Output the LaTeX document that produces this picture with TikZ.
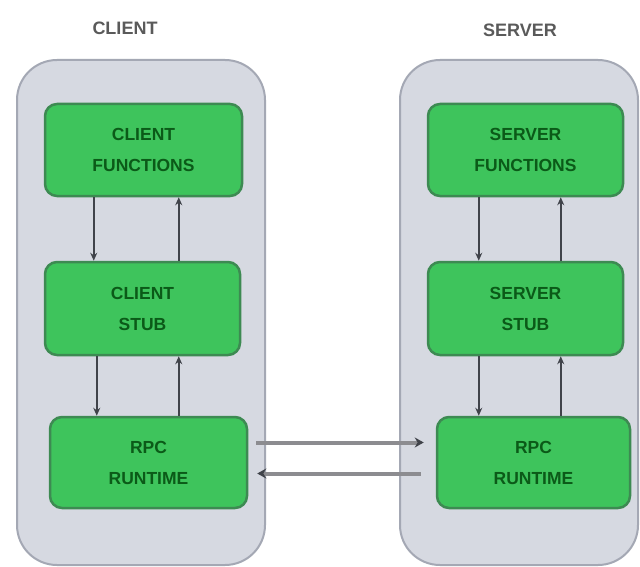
\documentclass[tikz,border=0pt]{standalone}
\usepackage{fontspec}
\setmainfont{Liberation Sans}
\usetikzlibrary{arrows.meta}
\definecolor{contfill}{HTML}{D6D9E1}
\definecolor{contdraw}{HTML}{A4A8B4}
\definecolor{boxfill}{HTML}{3EC45C}
\definecolor{boxdraw}{HTML}{3D8A52}
\definecolor{boxtext}{HTML}{0B5A18}
\definecolor{titletext}{HTML}{5A5A5A}
\definecolor{arrowgray}{HTML}{40434A}
\definecolor{linkgray}{HTML}{8C8C90}
\tikzset{
  container/.style={draw=contdraw, fill=contfill, line width=2pt, rounded corners=40pt},
  greenbox/.style={draw=boxdraw, fill=boxfill, line width=2.5pt, rounded corners=12pt,
    minimum width=195pt, minimum height=91pt, inner sep=0pt, align=center,
    text=boxtext, font=\bfseries\fontsize{17.5}{31}\selectfont},
  title/.style={text=titletext, font=\bfseries\fontsize{18}{20}\selectfont},
  varrow/.style={draw=arrowgray, line width=1.5pt, -{Stealth[length=8pt,width=7pt]}},
  harrow/.style={draw=linkgray, line width=4pt, -{Stealth[length=9pt,width=10pt,color=arrowgray]}}
}
\begin{document}
\begin{tikzpicture}[x=1pt,y=-1pt]
\useasboundingbox (0,0) rectangle (640,567);
\fill[white] (0,0) rectangle (640,567);
% containers
\draw[container] (17,60) rectangle (265,565);
\draw[container] (400,60) rectangle (638,565);
% titles
\node[title] (tclient) at (125,28) {CLIENT};
\node[title] (tserver) at (520,30) {SERVER};
% green boxes
\node[greenbox, minimum width=197pt, minimum height=92pt] (lfun) at (143.5,150) {CLIENT\\FUNCTIONS};
\node[greenbox, minimum width=195pt, minimum height=93pt] (lstub) at (142.5,308.5) {CLIENT\\STUB};
\node[greenbox, minimum width=197pt, minimum height=91pt] (lrpc) at (148.5,462.5) {RPC\\RUNTIME};
\node[greenbox, minimum width=195pt, minimum height=92pt] (rfun) at (525.5,150) {SERVER\\FUNCTIONS};
\node[greenbox, minimum width=195pt, minimum height=93pt] (rstub) at (525.5,308.5) {SERVER\\STUB};
\node[greenbox, minimum width=193pt, minimum height=91pt] (rrpc) at (533.5,462.5) {RPC\\RUNTIME};
% vertical arrows, client
\draw[varrow] ([xshift=50pt]lfun.south west) -- ([xshift=50pt]lstub.north west);
\draw[varrow] ([xshift=135pt]lstub.north west) -- ([xshift=135pt]lfun.south west);
\draw[varrow] ([xshift=53pt]lstub.south west) -- ([xshift=48pt]lrpc.north west);
\draw[varrow] ([xshift=130pt]lrpc.north west) -- ([xshift=135pt]lstub.south west);
% vertical arrows, server
\draw[varrow] ([xshift=52pt]rfun.south west) -- ([xshift=52pt]rstub.north west);
\draw[varrow] ([xshift=134pt]rstub.north west) -- ([xshift=134pt]rfun.south west);
\draw[varrow] ([xshift=52pt]rstub.south west) -- ([xshift=43pt]rrpc.north west);
\draw[varrow] ([xshift=125pt]rrpc.north west) -- ([xshift=134pt]rstub.south west);
% horizontal links
\draw[harrow, shorten <=8pt, shorten >=12pt] ([yshift=20pt]lrpc.east) -- ([yshift=20pt]rrpc.west);
\draw[harrow, shorten <=15pt, shorten >=9pt] ([yshift=-11pt]rrpc.west) -- ([yshift=-11pt]lrpc.east);
\end{tikzpicture}
\end{document}
